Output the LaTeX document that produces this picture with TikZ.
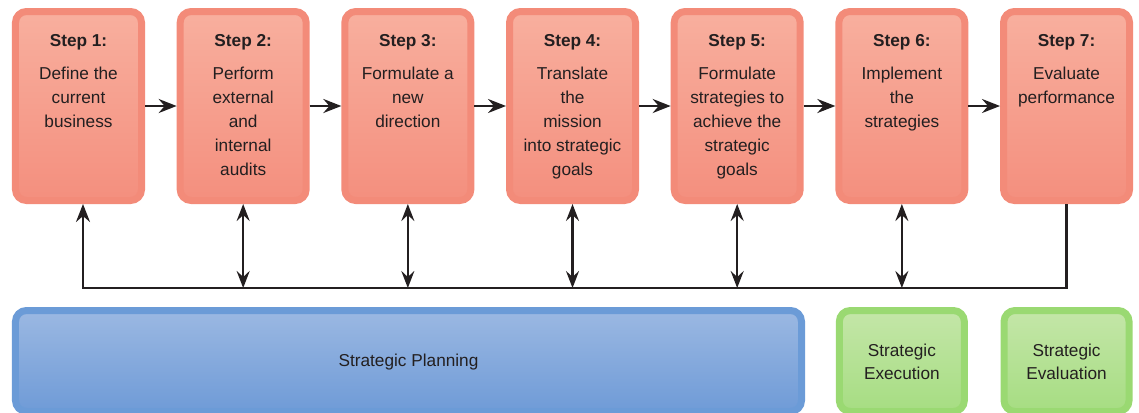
\documentclass[tikz,border=0pt]{standalone}
\usepackage{fontspec}
\setmainfont{Liberation Sans}
\usetikzlibrary{arrows.meta}
\definecolor{stepline}{HTML}{F38B79}
\definecolor{steptop}{HTML}{F8AF9E}
\definecolor{stepbot}{HTML}{F48F7E}
\definecolor{planline}{HTML}{6B9BD7}
\definecolor{plantop}{HTML}{9BB8E2}
\definecolor{planbot}{HTML}{6F9BD7}
\definecolor{doline}{HTML}{9AD972}
\definecolor{dotop}{HTML}{C4E6A8}
\definecolor{dobot}{HTML}{A6DD82}
\definecolor{ink}{HTML}{231F20}
\begin{document}
\begin{tikzpicture}[x=1bp, y=-1bp, node distance=164.67bp, line width=2.5bp,
		main node/.style={rounded corners=11bp, draw=stepline, line width=7bp, outer sep=3.5bp,
			top color=steptop, middle color=steptop, bottom color=stepbot,
			minimum width=126bp, minimum height=189bp, inner sep=0pt},
		plan node/.style={main node, draw=planline, top color=plantop, middle color=plantop,
			bottom color=planbot, minimum width=786bp, minimum height=101bp},
		do node/.style={main node, draw=doline, top color=dotop, middle color=dotop,
			bottom color=dobot, minimum width=125bp, minimum height=101bp},
		step text/.style={anchor=north, align=center, inner sep=0pt, text=ink,
			font=\fontsize{17.3}{24}\selectfont},
		box text/.style={align=center, inner sep=0pt, text=ink, font=\fontsize{17.3}{23.5}\selectfont},
		arr/.style={draw=ink, -{Stealth[length=18bp, width=14bp, inset=6bp]}},
		both/.style={draw=ink, {Stealth[length=17bp, width=13bp, inset=6bp]}-{Stealth[length=17bp, width=13bp, inset=6bp]}}]
	\useasboundingbox (0,0) rectangle (1139,412);
	
	\node[main node] (1) at (78.5,106) {};
	\node[main node] (2) [right of=1] {};
	\node[main node] (3) [right of=2] {};
	\node[main node] (4) [right of=3] {};
	\node[main node] (5) [right of=4] {};
	\node[main node] (6) [right of=5] {};
	\node[main node] (7) [right of=6] {};
	
	\node[step text] (t1) at ([yshift=-25.5bp]1.north) {\textbf{Step 1:}\\[9bp]Define the\\current\\business};
	\node[step text] (t2) at ([yshift=-25.5bp]2.north) {\textbf{Step 2:}\\[9bp]Perform\\external\\and\\internal\\audits};
	\node[step text] (t3) at ([yshift=-25.5bp]3.north) {\textbf{Step 3:}\\[9bp]Formulate a\\new\\direction};
	\node[step text] (t4) at ([yshift=-25.5bp]4.north) {\textbf{Step 4:}\\[9bp]Translate\\the\\mission\\into strategic\\goals};
	\node[step text] (t5) at ([yshift=-25.5bp]5.north) {\textbf{Step 5:}\\[9bp]Formulate\\strategies to\\achieve the\\strategic\\goals};
	\node[step text] (t6) at ([yshift=-25.5bp]6.north) {\textbf{Step 6:}\\[9bp]Implement\\the\\strategies};
	\node[step text] (t7) at ([yshift=-25.5bp]7.north) {\textbf{Step 7:}\\[9bp]Evaluate\\performance};
	
	\node[plan node] (plan) at (408.5,361) {};
	\node[do node] (exec) at (6 |- plan) {};
	\node[do node] (eval) at (7 |- plan) {};
	\node[box text] (tplan) at ([yshift=-1bp]plan) {Strategic Planning};
	\node[box text] (texec) at ([yshift=-1bp]exec) {Strategic\\Execution};
	\node[box text] (teval) at ([yshift=-1bp]eval) {Strategic\\Evaluation};
	
	% steps in a row
	\draw[arr] (1) -- (2);
	\draw[arr] (2) -- (3);
	\draw[arr] (3) -- (4);
	\draw[arr] (4) -- (5);
	\draw[arr] (5) -- (6);
	\draw[arr] (6) -- (7);
	
	% feedback bus
	\coordinate (bus) at (0,288);
	\coordinate (b1) at ([xshift=4.5bp]1.south |- bus);
	\draw[arr, line join=miter] (7) -- (7 |- bus) -- (b1) -- (b1 |- 1.south);
	\foreach \n in {2,...,6}
		\draw[both] (\n) -- (\n |- bus);
\end{tikzpicture}
\end{document}
